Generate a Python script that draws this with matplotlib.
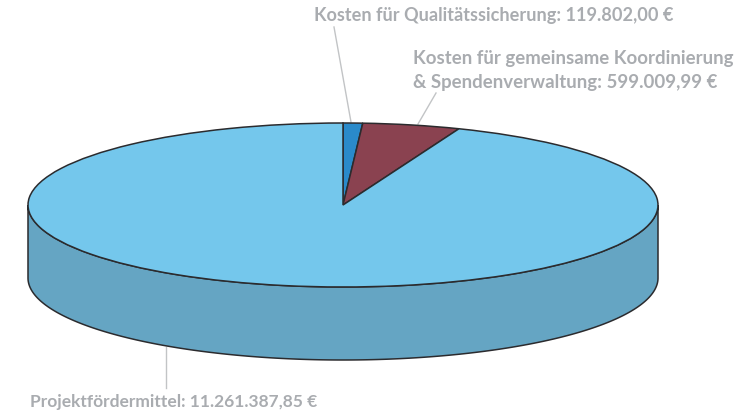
import numpy as np
import matplotlib
matplotlib.use('Agg')
import matplotlib.pyplot as plt

W, H = 738, 418

# euro amounts, clockwise from 12 o'clock
values = [119802.00, 599009.99, 11261387.85]
top_colors = ['#2a8aca', '#8a4250', '#74c7ec']
side_color = '#65a5c3'
edge = '#2b2b2e'
text_gray = '#a9acb0'
line_gray = '#c2c4c6'

label_qs = 'Kosten für Qualitätssicherung: 119.802,00 €'
label_koord = 'Kosten für gemeinsame Koordinierung\n& Spendenverwaltung: 599.009,99 €'
label_proj = 'Projektfördermittel: 11.261.387,85 €'

# ellipse in pixels
left, right, top, bottom = 28, 658, 123, 287
depth = 73

fig = plt.figure(figsize=(W / 100, H / 100), dpi=100)

# pixel overlay for the labels and leader lines
bg = fig.add_axes([0, 0, 1, 1])
bg.set_xlim(0, W)
bg.set_ylim(H, 0)
bg.axis('off')

# unit circle axes stretched onto the ellipse
ax = fig.add_axes([left / W, 1 - bottom / H, (right - left) / W, (bottom - top) / H])

# side wall of the disc
t = np.linspace(np.pi, 2 * np.pi, 300)
d = 2 * depth / (bottom - top)
xs = np.concatenate([np.cos(t), np.cos(t[::-1])])
ys = np.concatenate([np.sin(t) - d, np.sin(t[::-1])])
ax.fill(xs, ys, facecolor=side_color, edgecolor=edge, lw=1.1, clip_on=False, zorder=1)

wedges, _ = ax.pie(values, colors=top_colors, startangle=90, counterclock=False,
                   wedgeprops={'edgecolor': edge, 'linewidth': 1.1, 'zorder': 2})
for w in wedges:
    w.set_clip_on(False)
ax.set_aspect('auto')
ax.set_xlim(-1, 1)
ax.set_ylim(-1, 1)
ax.axis('off')

# leaders
bg.plot([334, 351], [27, 122], color=line_gray, lw=1)
bg.plot([436, 418], [93, 124], color=line_gray, lw=1)
bg.plot([166, 166], [347, 388], color=line_gray, lw=1)

font = dict(family='Lato', weight='bold', color=text_gray)
bg.text(314, 16, label_qs, ha='left', va='center', fontsize=13.1, **font)
bg.text(413, 70.5, label_koord, ha='left', va='center', linespacing=1.45, fontsize=13.4, **font)
bg.text(30, 402, label_proj, ha='left', va='center', fontsize=12.5, **font)

plt.savefig('out.png', dpi=100)
plt.close()
